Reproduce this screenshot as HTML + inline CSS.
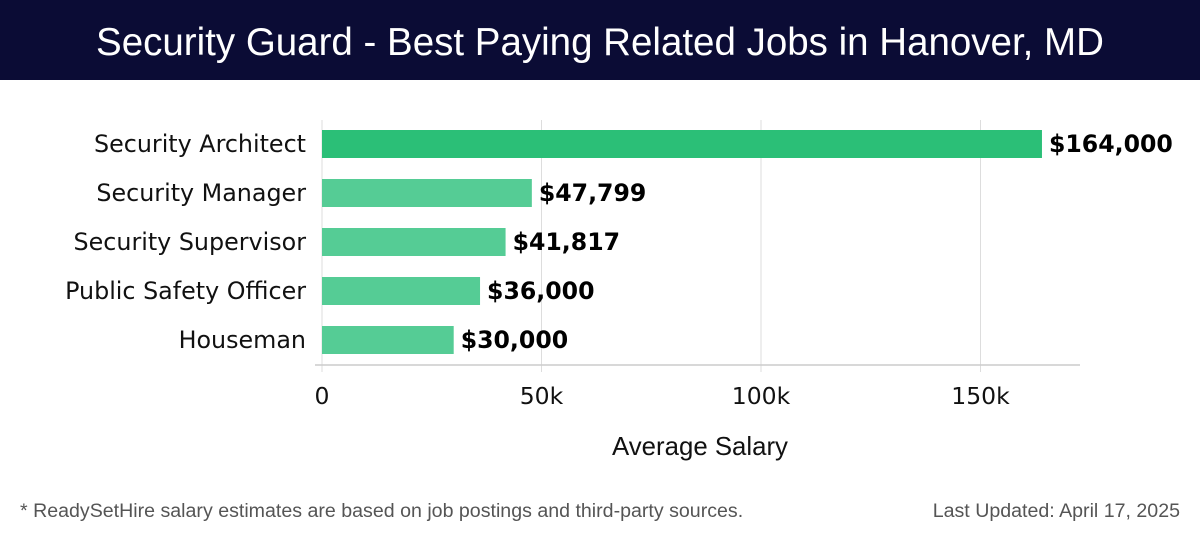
<!DOCTYPE html>
<html><head><meta charset="utf-8"><style>
body{margin:0;width:1200px;height:540px;background:#fff;overflow:hidden;font-family:"DejaVu Sans","Liberation Sans",sans-serif}
#hdr{position:absolute;left:0;top:0;width:1200px;height:80px;background:#0b0c35;color:#fff;font:38.5px "Liberation Sans",sans-serif;text-align:center;line-height:86px;white-space:nowrap}
.ft{position:absolute;top:500px;font:19.6px "Liberation Sans",sans-serif;color:#555;white-space:nowrap}
</style></head><body>
<div id="hdr">Security Guard - Best Paying Related Jobs in Hanover, MD</div>
<svg id="c" width="1200" height="540" style="position:absolute;left:0;top:0"></svg>
<div class="ft" style="left:20px">* ReadySetHire salary estimates are based on job postings and third-party sources.</div>
<div class="ft" style="right:20px">Last Updated: April 17, 2025</div>
<script>
const categories=["Security Architect","Security Manager","Security Supervisor","Public Safety Officer","Houseman"];
const values=[164000,47799,41817,36000,30000];
const valueLabels=["$164,000","$47,799","$41,817","$36,000","$30,000"];
const ticks=[0,50000,100000,150000];
const tickLabels=["0","50k","100k","150k"];
const svg=document.getElementById('c');const NS='http://www.w3.org/2000/svg';
const x=v=>322+v*219.5/50000;const y=i=>144+i*49;
function mk(t,a,txt){const e=document.createElementNS(NS,t);for(const k in a)e.setAttribute(k,a[k]);if(txt!=null)e.textContent=txt;svg.appendChild(e);return e;}
ticks.forEach((t,i)=>{
const g=mk('line',{x1:x(t),x2:x(t),y1:120,y2:372,stroke:'#ddd','stroke-width':1});

const l=mk('text',{x:x(t),y:404,'text-anchor':'middle','font-size':23.5,fill:'#111'},tickLabels[i]);

});
const ax=mk('line',{x1:315,x2:1080,y1:365,y2:365,stroke:'#ccc','stroke-width':1.5});

categories.forEach((c,i)=>{
const b=mk('rect',{x:x(0),y:y(i)-14,width:x(values[i])-x(0),height:28,fill:i==0?'#2bbf77':'#55cc95'});

const l=mk('text',{x:306,y:y(i)+8,'text-anchor':'end','font-size':23.8,fill:'#111'},c);

const v=mk('text',{x:x(values[i])+7,y:y(i)+8,'font-size':23.6,'font-weight':'bold',fill:'#000'},valueLabels[i]);

});
const t=mk('text',{x:700,y:455,'text-anchor':'middle','font-size':25.8,fill:'#111','font-family':'Liberation Sans, sans-serif'},'Average Salary');

</script>
</body></html>
